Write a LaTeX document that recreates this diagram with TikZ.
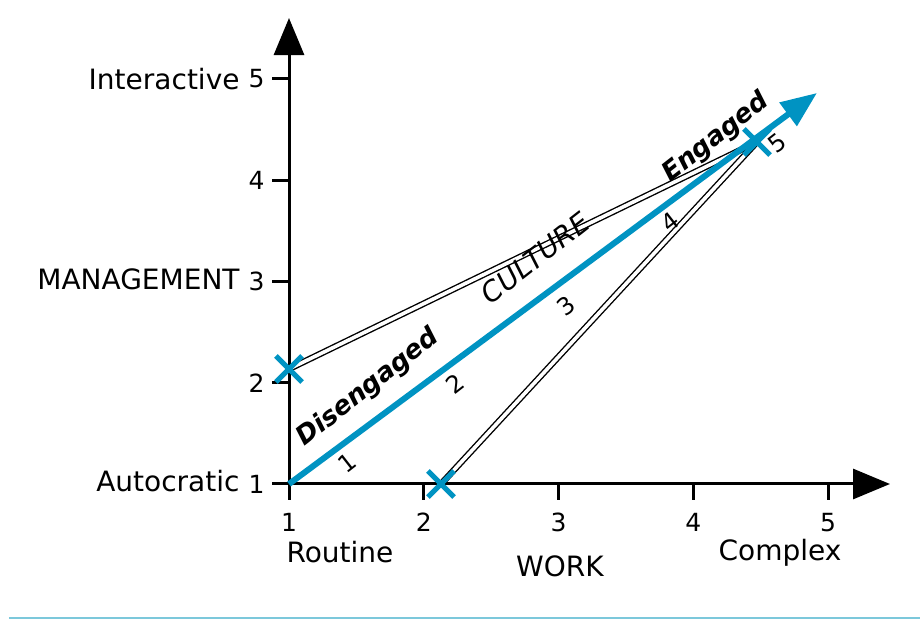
\documentclass[tikz,border=0pt]{standalone}
\usepackage{fontspec}
\setmainfont{DejaVu Sans}
\usetikzlibrary{arrows.meta,positioning,shapes.misc}
\definecolor{wcblue}{HTML}{0093C2}
\definecolor{wcrule}{HTML}{7CC8DB}
\definecolor{wcink}{HTML}{000000}
\tikzset{
  wcaxis/.style={draw=wcink, line width=1.5pt, -{Triangle[length=18.5pt,width=15pt]}},
  wctick/.style={draw=wcink, line width=1.5pt},
  wcnum/.style={font=\fontsize{12.5}{12.5}\selectfont, inner sep=0pt},
  wcname/.style={font=\fontsize{14}{14}\selectfont, inner sep=0pt},
  wccross/.style={cross out, draw=wcblue, line width=2.6pt, minimum size=10.5pt, inner sep=0pt},
  wctrend/.style={draw=wcblue, line width=3pt, -{Triangle[length=18pt,width=14pt]}},
  wcpath/.style={draw=wcink, line width=0.7pt, double=white, double distance=1.8pt},
  wcslant/.style={font=\fontsize{13}{13}\selectfont\bfseries\itshape, rotate=38, inner sep=0pt},
  wcstep/.style={font=\fontsize{12}{12}\selectfont, rotate=38, inner sep=0pt},
}

\begin{document}
\begin{tikzpicture}[x=67.375pt,y=50.625pt]
  \useasboundingbox (-1.1447,-0.3333) rectangle (5.7124,5.7802);
  % axes
  \coordinate (o) at (1,1);
  \coordinate (ytip) at (1,5.602);
  \coordinate (xtip) at (5.46,1);
  \draw[wcaxis] (o) -- (ytip);
  \draw[wcaxis] (o) -- (xtip);
  \foreach \v in {1,...,5} {
    \draw[wctick] (\v,1) -- ++(0,-8pt);
    \node[wcnum] (xn\v) at (\v,0.62) {\v};
    \draw[wctick] (1,\v) -- ++(-8.5pt,0);
    \node[wcnum] (yn\v) at (0.76,\v) {\v};
  }
  \node[wcname, anchor=east] (inter) at (0.636,5) {Interactive};
  \node[wcname, anchor=east] (mgmt) at (0.636,3.02) {MANAGEMENT};
  \node[wcname, anchor=east] (auto) at (0.636,1.03) {Autocratic};
  \node[wcname] (rout) at (1.378,0.328) {Routine};
  \node[wcname] (work) at (3.011,0.190) {WORK};
  \node[wcname] (cplx) at (4.644,0.319) {Complex};

  % paths to the engaged point
  \coordinate (mgr) at (1,2.136);
  \coordinate (wrk) at (2.128,1);
  \coordinate (top) at (4.473,4.378);
  \draw[wcpath] (mgr) -- (top);
  \draw[wcpath] (wrk) -- (top);
  \node[wccross] (mgrx) at (mgr) {};
  \node[wccross] (wrkx) at (wrk) {};
  \node[wccross] (topx) at (top) {};

  % culture trend
  \coordinate (end) at (4.918,4.862);
  \draw[wctrend] (o) -- (end);
  \node[wcslant] (dis) at (1.586,1.948) {Disengaged};
  \node[wcslant, font=\fontsize{14}{14}\selectfont\itshape] (cult) at (2.826,3.232) {CULTURE};
  \node[wcslant] (eng) at (4.169,4.417) {Engaged};
  \node[wcstep] (s1) at (1.430,1.207) {1};
  \node[wcstep] (s2) at (2.232,1.988) {2};
  \node[wcstep] (s3) at (3.056,2.758) {3};
  \node[wcstep] (s4) at (3.827,3.588) {4};
  \node[wcstep] (s5) at (4.622,4.368) {5};

  % bottom rule
  \coordinate (rl) at (-1.078,-0.3235);
  \coordinate (rr) at (5.683,-0.3235);
  \draw[wcrule, line width=0.8pt] (rl) -- (rr);
\end{tikzpicture}
\end{document}
